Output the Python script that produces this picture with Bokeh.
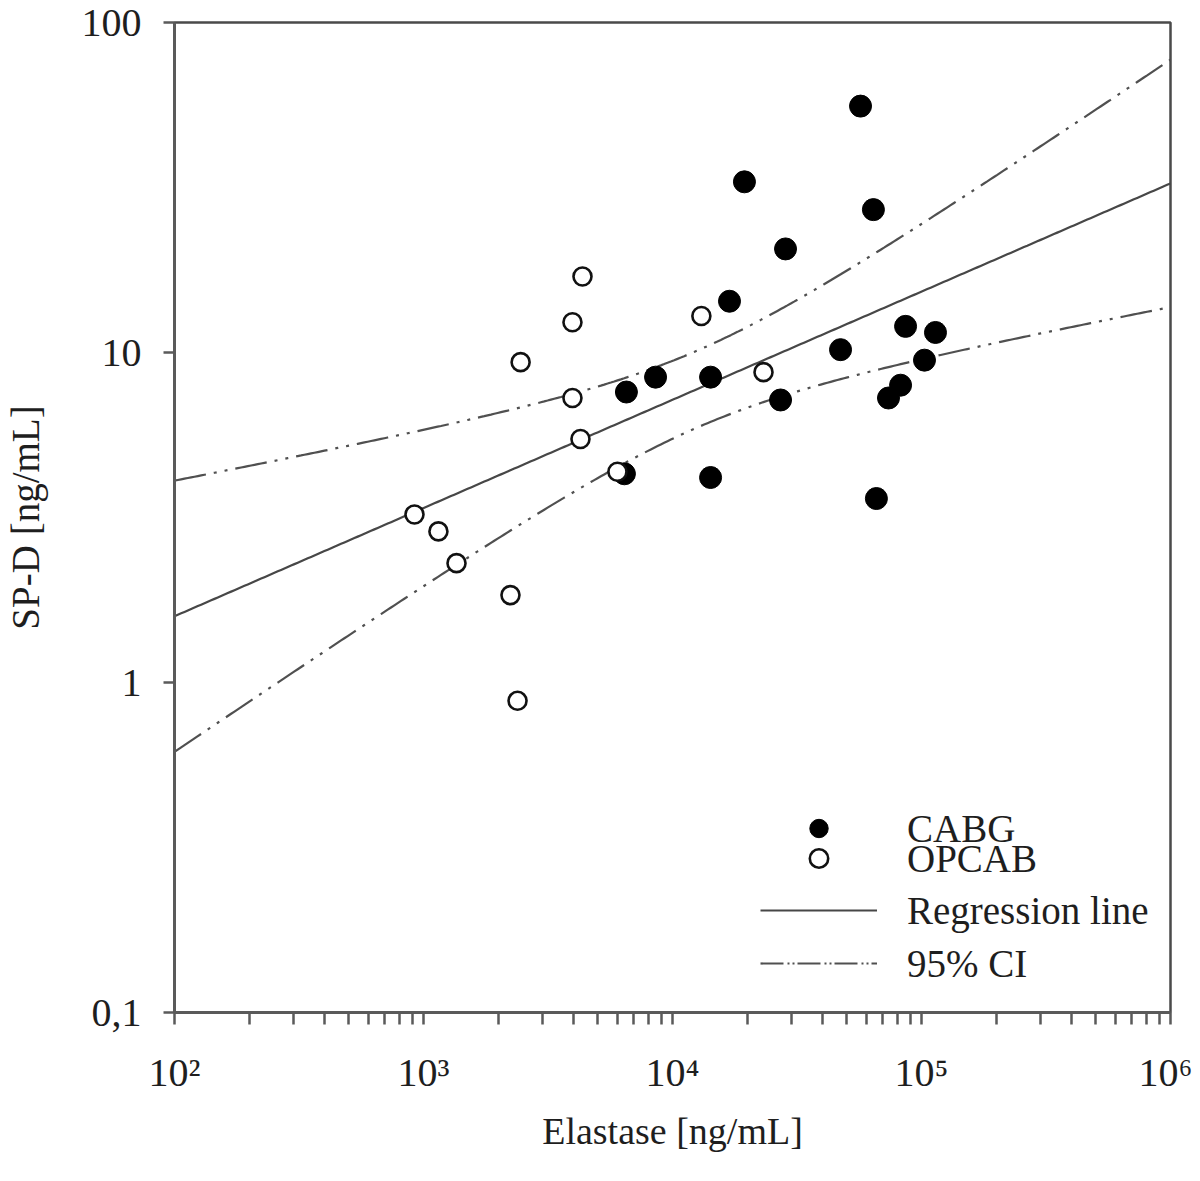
import numpy as np
from bokeh.plotting import figure
from bokeh.models import FixedTicker, Legend, LegendItem, ColumnDataSource
from bokeh.embed import file_html
from bokeh.resources import INLINE

# ---- data ----
cabg_elastase = [56900, 19450, 64100, 28440, 16940, 86300, 113800, 47300, 102800,
                 8550, 14220, 6530, 27160, 82400, 73700, 6410, 14220, 65900]
cabg_spd = [55.8, 32.9, 27.1, 20.6, 14.3, 12.0, 11.5, 10.2, 9.48,
            8.42, 8.42, 7.59, 7.18, 7.96, 7.28, 4.29, 4.18, 3.61]

opcab_elastase = [4350, 3965, 13060, 2455, 23200, 3965, 4270, 6010,
                  920, 1148, 1357, 2235, 2386]
opcab_spd = [17.0, 12.35, 12.9, 9.35, 8.72, 7.28, 5.47, 4.35,
             3.23, 2.87, 2.30, 1.84, 0.88]

x_ticks = [1e2, 1e3, 1e4, 1e5, 1e6]
x_tick_labels = ["10²", "10³", "10⁴", "10⁵", "10⁶"]
y_ticks = [0.1, 1, 10, 100]
y_tick_labels = ["0,1", "1", "10", "100"]
T_CRIT = 2.045  # t(0.975, df=29)

# ---- regression (log-log OLS) and 95% CI of the mean ----
u = np.log10(np.array(cabg_elastase + opcab_elastase, dtype=float))
v = np.log10(np.array(cabg_spd + opcab_spd, dtype=float))
n = len(u)
ub, vb = u.mean(), v.mean()
sxx = ((u - ub) ** 2).sum()
slope = ((u - ub) * (v - vb)).sum() / sxx
icpt = vb - slope * ub
resid = v - (icpt + slope * u)
s = np.sqrt((resid ** 2).sum() / (n - 2))
ug = np.linspace(2, 6, 300)
fit = icpt + slope * ug
half = T_CRIT * s * np.sqrt(1.0 / n + (ug - ub) ** 2 / sxx)
xg = 10 ** ug
fit_src = ColumnDataSource(dict(x=xg, y=10 ** fit, up=10 ** (fit + half), lo=10 ** (fit - half)))

FONT = "Liberation Serif"
AX = "#5a5a5a"

p = figure(width=1192, height=1173, x_axis_type="log", y_axis_type="log",
           x_range=(1e2, 1e6), y_range=(0.1, 100),
           output_backend="svg", toolbar_location=None,
           min_border_left=174, min_border_right=22, min_border_top=22, min_border_bottom=161)
p.xgrid.visible = False
p.ygrid.visible = False
p.outline_line_color = "#4a4a4a"
p.outline_line_width = 2.5
p.background_fill_color = "white"
p.border_fill_color = "white"

# axes
xa = p.xaxis[0]
xa.ticker = FixedTicker(ticks=x_ticks,
                        minor_ticks=[m * d for d in [1e2, 1e3, 1e4, 1e5] for m in range(2, 10)])
xa.major_label_overrides = dict(zip(x_ticks, x_tick_labels))
xa.axis_label = "Elastase [ng/mL]"
ya = p.yaxis[0]
ya.ticker = FixedTicker(ticks=y_ticks, minor_ticks=[])
ya.major_label_overrides = dict(zip(y_ticks, y_tick_labels))
ya.axis_label = "SP-D [ng/mL]"
for ax in (xa, ya):
    ax.axis_line_color = AX
    ax.axis_line_width = 3
    ax.major_tick_line_color = AX
    ax.major_tick_line_width = 2.5
    ax.minor_tick_line_color = AX
    ax.minor_tick_line_width = 2.5
    ax.major_tick_in = 0
    ax.minor_tick_in = 0
    ax.major_label_text_font = FONT
    ax.major_label_text_font_size = "40px"
    ax.major_label_text_color = "#1e1e1e"
    ax.axis_label_text_font = FONT
    ax.axis_label_text_font_style = "normal"
    ax.axis_label_text_color = "#1e1e1e"
xa.axis_label_text_font_size = "38px"
ya.axis_label_text_font_size = "39px"
xa.major_tick_out = 12
xa.minor_tick_out = 12
xa.major_label_standoff = 25
xa.axis_label_standoff = 12
ya.major_tick_out = 11
ya.minor_tick_out = 0
ya.major_label_standoff = 22
ya.axis_label_standoff = 32

# lines
CI_DASH = "32 8 3 8 3 8"
p.line("x", "up", source=fit_src, line_color="#505050", line_width=2.2, line_dash=CI_DASH)
p.line("x", "lo", source=fit_src, line_color="#505050", line_width=2.2, line_dash=CI_DASH)
r_reg = p.line("x", "y", source=fit_src, line_color="#474747", line_width=2.2)

# points
r_cabg = p.scatter(cabg_elastase, cabg_spd, marker="circle", size=22,
                   fill_color="black", line_color="black", line_width=1)
r_opcab = p.scatter(opcab_elastase, opcab_spd, marker="circle", size=18,
                    fill_color="white", line_color="#111111", line_width=2.6)

# legend-only (hidden) renderer for the CI key with its own dash spacing
r_ci_leg = p.line("x", "up", source=fit_src, line_color="#505050", line_width=2.2,
                  line_dash="23 4 2 3 2 3", visible=False)

def add_leg(label, rend, vy):
    leg = Legend(items=[LegendItem(label=label, renderers=[rend])],
                 location=(586, vy), glyph_width=117, glyph_height=46, label_height=46,
                 label_standoff=30, padding=0, margin=0, spacing=0,
                 border_line_color=None, background_fill_alpha=0,
                 label_text_font=FONT, label_text_font_size="39px",
                 label_text_color="#1e1e1e")
    p.add_layout(leg)

add_leg("CABG", r_cabg, 161)
add_leg("OPCAB", r_opcab, 131)
add_leg("Regression line", r_reg, 79)
add_leg("95% CI", r_ci_leg, 26)

open("out.html", "w").write(file_html(p, INLINE))
